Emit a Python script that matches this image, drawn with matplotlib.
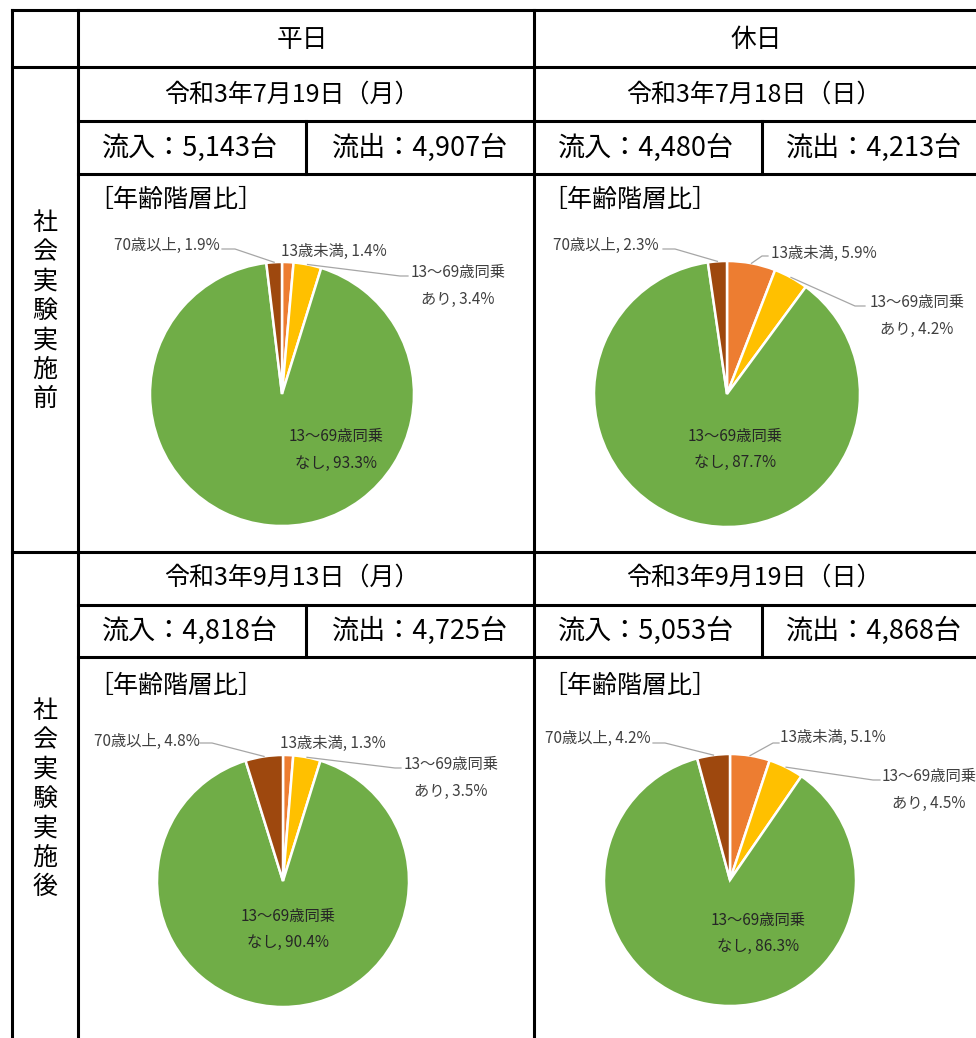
import numpy as np
import matplotlib
matplotlib.use("Agg")
import matplotlib.pyplot as plt

plt.rcParams["font.family"] = ["Noto Sans CJK JP", "DejaVu Sans"]

W, H = 976, 1038

# ---- data ----
CATEGORIES = ["13歳未満", "13〜69歳同乗\nあり", "13〜69歳同乗\nなし", "70歳以上"]
COLORS = ["#ED7D31", "#FFC000", "#70AD47", "#9E480E"]

weekday_before = [1.4, 3.4, 93.3, 1.9]
holiday_before = [5.9, 4.2, 87.7, 2.3]
weekday_after = [1.3, 3.5, 90.4, 4.8]
holiday_after = [5.1, 4.5, 86.3, 4.2]

col_headers = ["平日", "休日"]
row_headers = ["社会実験実施前", "社会実験実施後"]
dates = ["令和3年7月19日（月）", "令和3年7月18日（日）",
         "令和3年9月13日（月）", "令和3年9月19日（日）"]
inflow = ["5,143", "4,480", "4,818", "5,053"]
outflow = ["4,907", "4,213", "4,725", "4,868"]

LABEL_COLOR = "#404040"
LEADER_COLOR = "#A6A6A6"

fig = plt.figure(figsize=(W / 100, H / 100), dpi=100)

# pies first, overlay on top
pies = [
    dict(vals=weekday_before, cx=282, cy=394, r=132,
         lab=[(334, 251), (458, 273), (336, 437), (167, 245)],
         lead_or=None,
         lead_ye=[(400, 276), (408, 276)],
         lead_br=[(235, 249), (222, 249)]),
    dict(vals=holiday_before, cx=727, cy=394, r=133,
         lab=[(824, 253), (917, 303), (735, 436), (606, 245)],
         lead_or=[(762, 256), (768, 256)],
         lead_ye=[(855, 306), (865, 306)],
         lead_br=[(675, 249), (663, 249)]),
    dict(vals=weekday_after, cx=283, cy=881, r=126,
         lab=[(333, 743), (451, 765), (288, 916), (147, 741)],
         lead_or=None,
         lead_ye=[(395, 768), (401, 768)],
         lead_br=[(212, 743), (200, 743)]),
    dict(vals=holiday_after, cx=730, cy=880, r=126,
         lab=[(833, 737), (929, 777), (758, 920), (598, 738)],
         lead_or=[(773, 743), (779, 743)],
         lead_ye=[(873, 780), (880, 780)],
         lead_br=[(665, 743), (653, 743)]),
]

for p in pies:
    cx, cy, r = p["cx"], p["cy"], p["r"]
    ax = fig.add_axes([(cx - r * 1.02) / W, 1 - (cy + r * 1.02) / H,
                       2 * r * 1.02 / W, 2 * r * 1.02 / H])
    wedges, _ = ax.pie(p["vals"], colors=COLORS, startangle=90, counterclock=False,
                       radius=1.0,
                       wedgeprops=dict(edgecolor="white", linewidth=1.8))
    ax.set_xlim(-1.02, 1.02)
    ax.set_ylim(-1.02, 1.02)
    ax.set_aspect("equal")
    ax.axis("off")
    p["wedges"] = wedges

ov = fig.add_axes([0, 0, 1, 1])
ov.set_xlim(0, W)
ov.set_ylim(H, 0)
ov.axis("off")
ov.set_zorder(10)


def hline(y, x0, x1=W + 5):
    ov.plot([x0, x1], [y, y], color="black", lw=2.2, solid_capstyle="projecting")


def vline(x, y0, y1):
    ov.plot([x, x], [y0, y1], color="black", lw=2.2, solid_capstyle="projecting")


# ---- table grid ----
hline(10, 12)
hline(67, 12)
hline(121, 78)
hline(174, 78)
hline(552, 12)
hline(605, 78)
hline(657, 78)
vline(12, 10, H + 5)
vline(78, 10, H + 5)
vline(534, 10, H + 5)
vline(306, 121, 174)
vline(762, 121, 174)
vline(306, 605, 657)
vline(762, 605, 657)

# ---- header texts ----
col_x = [302, 756]
for x, t in zip(col_x, col_headers):
    ov.text(x, 40, t, ha="center", va="center", fontsize=18.5)

for i, rh in enumerate(row_headers):
    yc = [311, 799][i]
    ov.text(45, yc, "\n".join(rh), ha="center", va="center", fontsize=18,
            linespacing=1.16)

date_y = [95, 95, 578, 578]
flow_y = [148, 148, 631, 631]
date_x = [292, 754, 292, 754]
in_x = [190, 646, 190, 646]
out_x = [420, 874, 420, 874]
for k in range(4):
    ov.text(date_x[k], date_y[k], dates[k], ha="center", va="center",
            fontsize=18)
    ov.text(in_x[k], flow_y[k], f"流入：{inflow[k]}台", ha="center", va="center",
            fontsize=19.5)
    ov.text(out_x[k], flow_y[k], f"流出：{outflow[k]}台", ha="center", va="center",
            fontsize=19.5)

for x, y in [(88, 200), (542, 200), (88, 686), (542, 686)]:
    ov.text(x, y, "［年齢階層比］", ha="left", va="center", fontsize=18)

# ---- pie labels and leader lines ----
for p in pies:
    cx, cy, r = p["cx"], p["cy"], p["r"]
    for i, (cat, v) in enumerate(zip(CATEGORIES, p["vals"])):
        lx, ly = p["lab"][i]
        lines = cat.split("\n")
        col = "#262626" if i == 2 else LABEL_COLOR
        if len(lines) == 1:
            ov.text(lx, ly, f"{cat}, {v}%", ha="center", va="center",
                    fontsize=11, color=col)
        else:
            ov.text(lx, ly, lines[0], ha="center", va="center",
                    fontsize=11, color=col)
            ov.text(lx, ly + 26, f"{lines[1]}, {v}%", ha="center", va="center",
                    fontsize=11, color=col)

    for w, key in zip(p["wedges"], ["lead_or", "lead_ye", None, "lead_br"]):
        if key is None or p[key] is None:
            continue
        mid = np.deg2rad((w.theta1 + w.theta2) / 2)
        px = cx + r * np.cos(mid)
        py = cy - r * np.sin(mid)
        xs = [px] + [q[0] for q in p[key]]
        ys = [py] + [q[1] for q in p[key]]
        ov.plot(xs, ys, color=LEADER_COLOR, lw=0.9)

fig.savefig("out.png", dpi=100)
